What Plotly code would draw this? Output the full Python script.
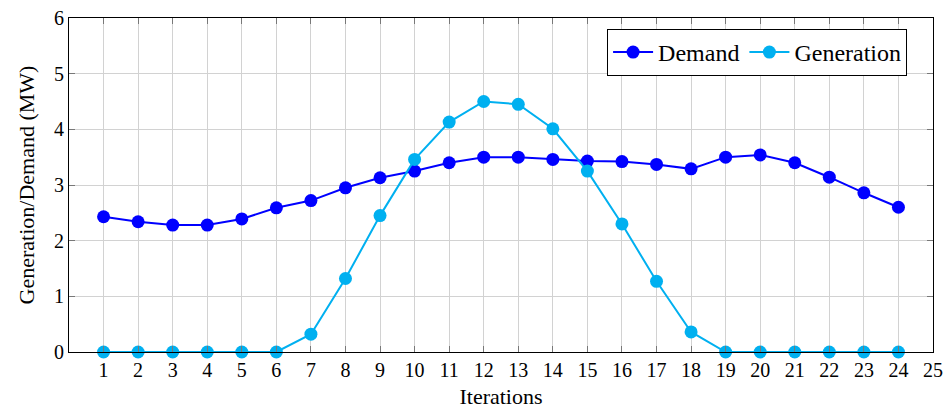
import plotly.graph_objects as go

iterations = list(range(1, 25))
demand = [2.43, 2.34, 2.28, 2.28, 2.39, 2.59, 2.72, 2.95, 3.13, 3.25, 3.40, 3.50,
          3.50, 3.46, 3.43, 3.42, 3.37, 3.29, 3.50, 3.54, 3.40, 3.14, 2.86, 2.60]
generation = [0, 0, 0, 0, 0, 0, 0.32, 1.32, 2.45, 3.46, 4.13, 4.50,
              4.45, 4.01, 3.25, 2.30, 1.27, 0.36, 0, 0, 0, 0, 0, 0]
x_ticks = list(range(1, 26))
y_ticks = [0, 1, 2, 3, 4, 5, 6]

FONT = "Liberation Serif, DejaVu Serif, serif"

fig = go.Figure()
fig.add_trace(go.Scatter(x=iterations, y=demand, mode="lines+markers", name="Demand",
                         line=dict(color="rgb(0,0,255)", width=2),
                         marker=dict(size=13, color="rgb(0,0,255)")))
fig.add_trace(go.Scatter(x=iterations, y=generation, mode="lines+markers", name="Generation",
                         line=dict(color="rgb(0,176,240)", width=2),
                         marker=dict(size=13, color="rgb(0,176,240)")))

axis_common = dict(showline=True, linecolor="black", linewidth=1.2, mirror="ticks",
                   ticks="inside", ticklen=6, tickcolor="rgb(120,120,120)", tickwidth=1,
                   showgrid=True, gridcolor="rgb(210,210,210)", gridwidth=1,
                   zeroline=False, automargin=False,
                   tickfont=dict(family=FONT, size=20, color="black"))

fig.update_layout(
    width=951, height=409,
    margin=dict(l=69, r=18, t=18, b=57),
    paper_bgcolor="white", plot_bgcolor="white",
    font=dict(family=FONT, size=20, color="black"),
    showlegend=True,
    legend=dict(orientation="h", x=0.970, xanchor="right", y=0.967, yanchor="top",
                bordercolor="black", borderwidth=1, bgcolor="white",
                font=dict(family=FONT, size=24), itemwidth=40, tracegroupgap=0),
    xaxis=dict(range=[0, 25], tickvals=x_ticks,
               title=dict(text="Iterations", font=dict(family=FONT, size=22), standoff=13),
               **axis_common),
    yaxis=dict(range=[0, 6], tickvals=y_ticks,
               title=dict(text="Generation/Demand (MW)", font=dict(family=FONT, size=22), standoff=13),
               **axis_common),
)
for tr in fig.data:
    tr.cliponaxis = False

fig.write_html("out.html")
